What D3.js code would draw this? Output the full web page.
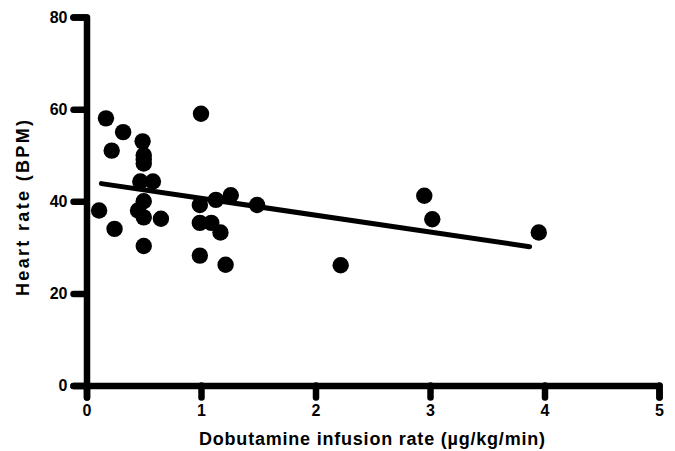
<!DOCTYPE html>
<html>
<head>
<meta charset="utf-8">
<script src="https://cdn.jsdelivr.net/npm/d3@7"></script>
<style>
  html, body { margin: 0; padding: 0; background: #fff; }
  svg { display: block; }
  text { font-family: "Liberation Sans", Arial, sans-serif; font-weight: bold; fill: #000; }
</style>
</head>
<body>
<svg id="chart" width="675" height="451"></svg>
<script>
// ---- data ----
const infusionRate = [0.11, 0.17, 0.22, 0.245, 0.32, 0.49, 0.50, 0.50, 0.50, 0.47, 0.58, 0.50, 0.45, 0.50, 0.50, 0.65,
                      1.00, 0.99, 1.13, 1.26, 1.49, 0.99, 1.09, 1.17, 0.99, 1.215, 2.22, 2.95, 3.02, 3.95];
const heartRate    = [38, 58, 51, 34, 55, 53, 50, 49, 48.2, 44.3, 44.3, 40, 38, 36.5, 30.3, 36.2,
                      59, 39.2, 40.3, 41.3, 39.2, 35.3, 35.3, 33.2, 28.2, 26.2, 26.1, 41.2, 36.1, 33.2];
const fitIntercept = 44.3;
const fitSlope = -3.66;
const fitRange = [0.13, 3.87];
const xTicks = [0, 1, 2, 3, 4, 5];
const yTicks = [0, 20, 40, 60, 80];
const xTitle = "Dobutamine infusion rate (\u00b5g/kg/min)";
const yTitle = "Heart rate (BPM)";

// ---- drawing ----
const svg = d3.select("#chart");
const x = d3.scaleLinear().domain([0, 5]).range([86.5, 659]);
const y = d3.scaleLinear().domain([0, 80]).range([385.5, 17]);

const points = infusionRate.map((v, i) => ({ x: v, y: heartRate[i] }));

// regression line
const line = d3.line().x(d => x(d)).y(d => y(fitIntercept + fitSlope * d));
svg.append("path")
  .attr("d", line(fitRange))
  .attr("fill", "none")
  .attr("stroke", "#000")
  .attr("stroke-width", 5)
  .attr("stroke-linecap", "round");

// points
svg.append("g").selectAll("circle").data(points).join("circle")
  .attr("cx", d => x(d.x))
  .attr("cy", d => y(d.y))
  .attr("r", 8.2)
  .attr("fill", "#000");

// axes
const fmt = d3.format("d");
const yAxis = d3.axisLeft(y).tickValues(yTicks).tickFormat(fmt).tickSize(13).tickSizeOuter(13).tickPadding(6);
const xAxis = d3.axisBottom(x).tickValues(xTicks).tickFormat(fmt).tickSize(12).tickSizeOuter(12).tickPadding(7);

function styleAxis(g) {
  g.selectAll("path.domain, .tick line")
    .attr("stroke", "#000")
    .attr("stroke-width", 6.5)
    .attr("stroke-linecap", "round")
    .attr("stroke-linejoin", "round");
  g.selectAll(".tick text")
    .attr("font-family", "Liberation Sans, Arial, sans-serif")
    .attr("font-weight", "bold")
    .attr("font-size", 16)
    .attr("fill", "#000");
}

svg.append("g").attr("transform", `translate(${x(0)},0)`).call(yAxis).call(styleAxis);
svg.append("g").attr("transform", `translate(0,${y(0)})`).call(xAxis).call(styleAxis);

// titles
svg.append("text")
  .attr("x", 372).attr("y", 445)
  .attr("text-anchor", "middle")
  .attr("font-size", 18)
  .attr("textLength", 346)
  .attr("lengthAdjust", "spacing")
  .text(xTitle);

svg.append("text")
  .attr("transform", "translate(29,208) rotate(-90)")
  .attr("text-anchor", "middle")
  .attr("font-size", 18)
  .attr("textLength", 176)
  .attr("lengthAdjust", "spacing")
  .text(yTitle);
</script>
</body>
</html>
